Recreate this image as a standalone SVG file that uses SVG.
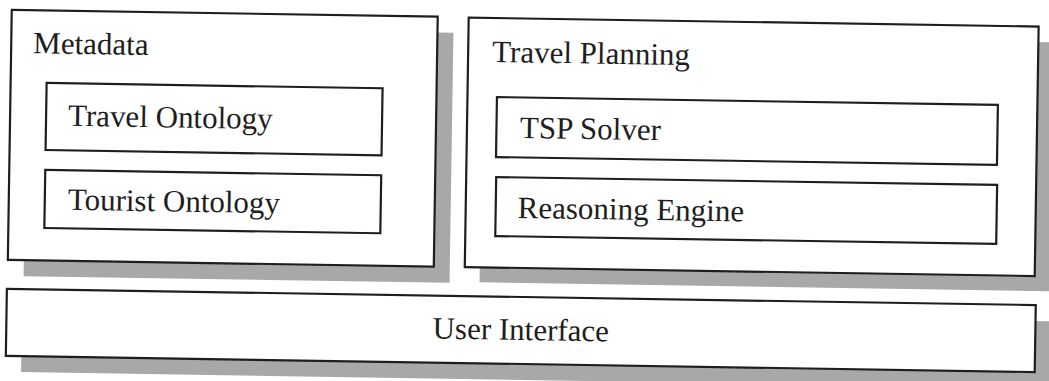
<svg xmlns="http://www.w3.org/2000/svg" width="1049" height="381" viewBox="0 0 1049 381">
<style>
.box{fill:#fff;stroke:#1e1e1e;stroke-width:2.2}
.shadow{fill:#a8a8a8}
.lbl{font-family:"Liberation Serif","Times New Roman",serif;font-size:31px;fill:#1e1e1e}
</style>
<rect width="1049" height="381" fill="#fff"/>
<g transform="rotate(0.9 524 190)">
<g id="metadata">
<rect class="shadow" x="25" y="34" width="426" height="250"/>
<rect class="box" x="9" y="18" width="426" height="250"/>
<text class="lbl" x="31" y="61">Metadata</text>
</g>
<g id="travel-ontology">
<rect class="box" x="45" y="90.5" width="336" height="67"/>
<text class="lbl" x="67" y="133">Travel Ontology</text>
</g>
<g id="tourist-ontology">
<rect class="box" x="45" y="177.5" width="336" height="58"/>
<text class="lbl" x="68" y="217">Tourist Ontology</text>
</g>
<g id="travel-planning">
<rect class="shadow" x="481" y="34" width="570" height="249"/>
<rect class="box" x="466" y="18.5" width="570" height="249.5"/>
<text class="lbl" x="490" y="62.5">Travel Planning</text>
</g>
<g id="tsp-solver">
<rect class="box" x="495.5" y="97.5" width="501" height="60"/>
<text class="lbl" x="519" y="138">TSP Solver</text>
</g>
<g id="reasoning-engine">
<rect class="box" x="496" y="177.5" width="501" height="59"/>
<text class="lbl" x="518" y="218">Reasoning Engine</text>
</g>
<g id="user-interface">
<rect class="shadow" x="24" y="313" width="1030" height="67"/>
<rect class="box" x="8.5" y="297" width="1029" height="67"/>
<text class="lbl" x="523" y="340" text-anchor="middle">User Interface</text>
</g>
<g id="connectors"/>
</g>
</svg>
